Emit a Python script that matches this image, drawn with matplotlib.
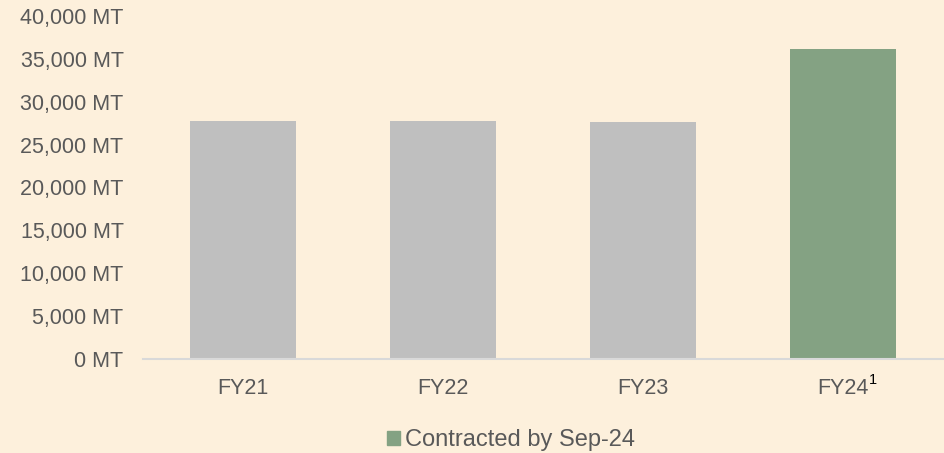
import matplotlib.pyplot as plt
from matplotlib.patches import Patch
from matplotlib.ticker import FuncFormatter

plt.rcParams['font.family'] = ['Liberation Sans', 'DejaVu Sans']

years = ['FY21', 'FY22', 'FY23', 'FY24']
volumes = [27750, 27730, 27650, 36150]
bar_colors = ['#BFBFBF', '#BFBFBF', '#BFBFBF', '#84A283']
bg = '#FDF0DC'
txt = '#595959'

fig = plt.figure(figsize=(9.44, 4.53), dpi=100, facecolor=bg)
ax = fig.add_axes([143 / 944, 1 - 359 / 453, 800 / 944, 343 / 453])
ax.set_facecolor(bg)

x = range(len(years))
ax.bar(x, volumes, width=0.53, color=bar_colors)
ax.set_xlim(-0.5, 3.5)
ax.set_ylim(0, 40000)
ax.set_yticks(range(0, 40001, 5000))
ax.yaxis.set_major_formatter(FuncFormatter(lambda v, p: f'{int(v):,} MT'))
ax.set_xticks(list(x))
ax.set_xticklabels(years)

for s in ['top', 'right', 'left']:
    ax.spines[s].set_visible(False)
ax.spines['bottom'].set_color('#D9D9D9')
ax.spines['bottom'].set_linewidth(1.5)
ax.tick_params(axis='both', length=0, labelsize=15.5, labelcolor=txt)
ax.tick_params(axis='y', pad=14)
ax.tick_params(axis='x', pad=14)

# superscript footnote on FY24
fig.text(869 / 944, 1 - 380 / 453, '1', fontsize=10.5, color='black', va='center', ha='left')

handles = [Patch(color='#84A283', label='Contracted by Sep-24')]
fig.legend(handles=handles, loc='center', bbox_to_anchor=(511 / 944, 1 - 440 / 453),
           frameon=False, fontsize=17, labelcolor=txt, handlelength=0.55, handleheight=0.55,
           handletextpad=0.2)

fig.savefig('out.png', dpi=100, facecolor=bg)
